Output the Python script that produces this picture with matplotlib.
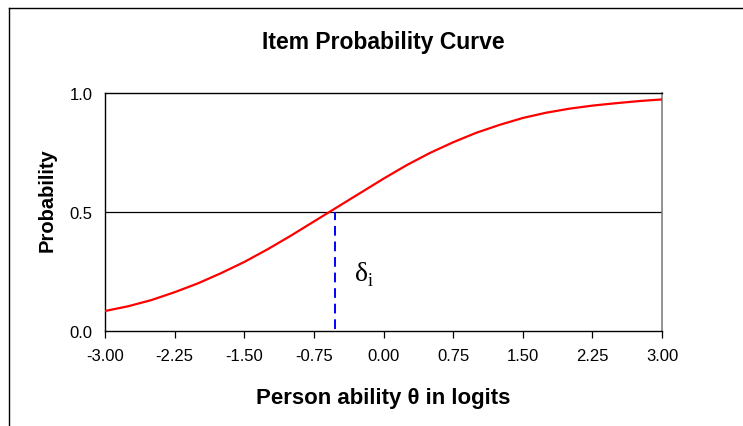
import matplotlib
matplotlib.use("Agg")
import matplotlib.pyplot as plt
from matplotlib.lines import Line2D

# values
theta = [-3.00, -2.75, -2.50, -2.25, -2.00, -1.75, -1.50, -1.25, -1.00,
         -0.75, -0.50, -0.25, 0.00, 0.25, 0.50, 0.75, 1.00, 1.25, 1.50,
         1.75, 2.00, 2.25, 2.50, 2.75, 3.00]
prob = [0.084, 0.104, 0.130, 0.163, 0.200, 0.243, 0.290, 0.343, 0.400,
        0.460, 0.520, 0.580, 0.640, 0.697, 0.748, 0.793, 0.833, 0.866, 0.895,
        0.917, 0.934, 0.947, 0.957, 0.966, 0.973]
delta = -0.52
x_ticks = [-3.00, -2.25, -1.50, -0.75, 0.00, 0.75, 1.50, 2.25, 3.00]
y_ticks = [0.0, 0.5, 1.0]

plt.rcParams["font.family"] = ["Liberation Sans", "DejaVu Sans"]

fig = plt.figure(figsize=(7.43, 4.27), dpi=100)
ax = fig.add_axes([105 / 743, 1 - 332 / 427, 557 / 743, 238 / 427])

ax.plot(theta, prob, color="#ff0000", lw=1.6, zorder=3)
ax.axhline(0.5, color="black", lw=0.9, zorder=2)
ax.plot([delta, delta], [0.01, 0.5], color="#0000ff", lw=1.4,
        ls=(0, (5, 3)), zorder=2)

# delta_i label, upright serif
ax.text(-0.31, 0.215, "δ", fontsize=20, family="Liberation Serif",
        ha="left", va="baseline")
ax.text(-0.175, 0.195, "i", fontsize=13, family="Liberation Serif",
        ha="left", va="baseline")

ax.set_xlim(-3, 3)
ax.set_ylim(0, 1)
ax.set_xticks(x_ticks)
ax.set_xticklabels([f"{v:.2f}" for v in x_ticks])
ax.set_yticks(y_ticks)
ax.set_yticklabels([f"{v:.1f}" for v in y_ticks])
ax.tick_params(axis="both", labelsize=12, direction="out", length=5,
               width=0.9, color="black")
ax.tick_params(axis="x", pad=7)
ax.tick_params(axis="y", length=0, pad=9)

for side in ["left", "top", "bottom"]:
    ax.spines[side].set_color("black")
    ax.spines[side].set_linewidth(1.0)
ax.spines["right"].set_color("#808080")
ax.spines["right"].set_linewidth(1.2)

fig.text(0.516, 1 - 48.5 / 427, "Item Probability Curve", ha="center",
         va="baseline", fontsize=16.5, fontweight="bold")
fig.text(0.516, 1 - 404 / 427, "Person ability θ in logits", ha="center",
         va="baseline", fontsize=16, fontweight="bold")
fig.text(47 / 743, 1 - 200 / 427, "Probability", ha="center", va="center",
         rotation=90, fontsize=14.5, fontweight="bold")

# outer chart border (left and top edges visible)
fig.add_artist(Line2D([8.5 / 743, 8.5 / 743], [0, 1 - 9 / 427],
                      transform=fig.transFigure, color="black", lw=1.0))
fig.add_artist(Line2D([8.5 / 743, 1], [1 - 9 / 427, 1 - 9 / 427],
                      transform=fig.transFigure, color="black", lw=1.0))

fig.savefig("out.png", dpi=100)
